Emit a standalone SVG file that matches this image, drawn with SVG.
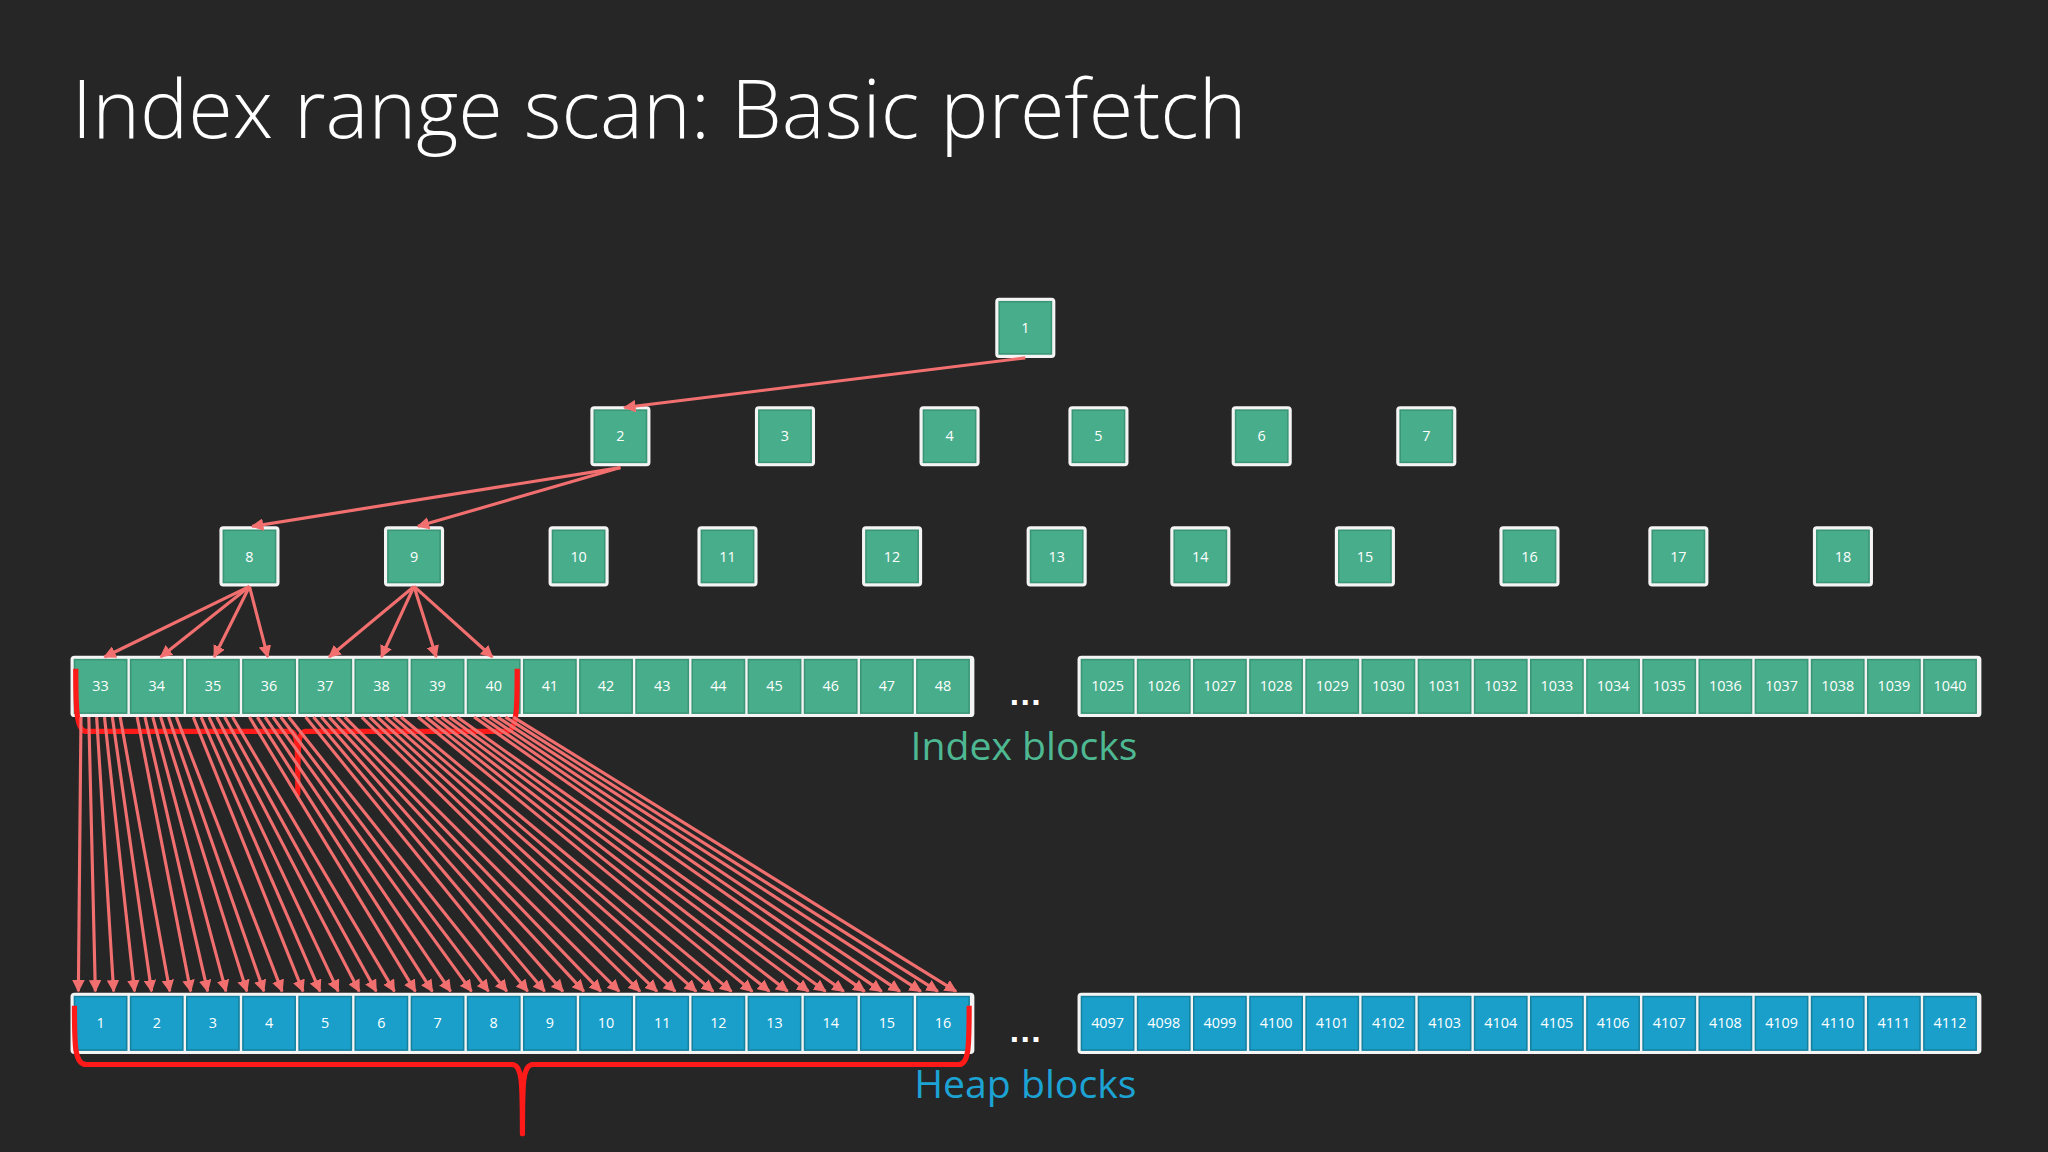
<svg xmlns="http://www.w3.org/2000/svg" width="2048" height="1152" viewBox="0 0 2048 1152">
<defs>
<style>
.bg{fill:#262626}
.title{font-family:"Open Sans","Liberation Sans",sans-serif;font-weight:300;font-size:62px;fill:#ffffff}
.wb{fill:#f4f4f4}
.g{fill:#48ad8b;stroke:#3a9476;stroke-width:1.2}
.b{fill:#1a9fcb;stroke:#15819f;stroke-width:1.2}
.t{font-family:"Open Sans","Liberation Sans",sans-serif;font-size:11px;fill:#ffffff;text-anchor:middle}
.a{stroke:#f26f6f;stroke-width:2.4;fill:none;marker-end:url(#ah)}
.br{stroke:#ff1a1a;stroke-width:4;fill:none;stroke-linejoin:round}
.lbl{font-family:"Open Sans","Liberation Sans",sans-serif;font-size:30px;text-anchor:middle}
.dots{font-family:"Liberation Sans",sans-serif;font-size:26px;fill:#ffffff;text-anchor:middle;font-weight:bold}
</style>
<marker id="ah" viewBox="0 0 10 10" refX="9" refY="5" markerWidth="4" markerHeight="4" orient="auto" markerUnits="strokeWidth">
<path d="M0,0 L10,5 L0,10 z" fill="#f26f6f"/>
</marker>
</defs>
<rect class="bg" width="2048" height="1152"/>
<g transform="scale(1.30612)">
<text class="title" x="55" y="106">Index range scan: Basic prefetch</text>

<g id="tree">
<g id="n1"><rect class="wb" x="762" y="228" width="46" height="46" rx="3"/><rect class="g" x="765" y="231" width="40" height="40"/><text class="t" x="785" y="255">1</text></g>
<g id="n2"><rect class="wb" x="452" y="311" width="46" height="46" rx="3"/><rect class="g" x="455" y="314" width="40" height="40"/><text class="t" x="475" y="338">2</text></g>
<g id="n3"><rect class="wb" x="578" y="311" width="46" height="46" rx="3"/><rect class="g" x="581" y="314" width="40" height="40"/><text class="t" x="601" y="338">3</text></g>
<g id="n4"><rect class="wb" x="704" y="311" width="46" height="46" rx="3"/><rect class="g" x="707" y="314" width="40" height="40"/><text class="t" x="727" y="338">4</text></g>
<g id="n5"><rect class="wb" x="818" y="311" width="46" height="46" rx="3"/><rect class="g" x="821" y="314" width="40" height="40"/><text class="t" x="841" y="338">5</text></g>
<g id="n6"><rect class="wb" x="943" y="311" width="46" height="46" rx="3"/><rect class="g" x="946" y="314" width="40" height="40"/><text class="t" x="966" y="338">6</text></g>
<g id="n7"><rect class="wb" x="1069" y="311" width="46" height="46" rx="3"/><rect class="g" x="1072" y="314" width="40" height="40"/><text class="t" x="1092" y="338">7</text></g>
<g id="n8"><rect class="wb" x="168" y="403" width="46" height="46" rx="3"/><rect class="g" x="171" y="406" width="40" height="40"/><text class="t" x="191" y="430">8</text></g>
<g id="n9"><rect class="wb" x="294" y="403" width="46" height="46" rx="3"/><rect class="g" x="297" y="406" width="40" height="40"/><text class="t" x="317" y="430">9</text></g>
<g id="n10"><rect class="wb" x="420" y="403" width="46" height="46" rx="3"/><rect class="g" x="423" y="406" width="40" height="40"/><text class="t" x="443" y="430">10</text></g>
<g id="n11"><rect class="wb" x="534" y="403" width="46" height="46" rx="3"/><rect class="g" x="537" y="406" width="40" height="40"/><text class="t" x="557" y="430">11</text></g>
<g id="n12"><rect class="wb" x="660" y="403" width="46" height="46" rx="3"/><rect class="g" x="663" y="406" width="40" height="40"/><text class="t" x="683" y="430">12</text></g>
<g id="n13"><rect class="wb" x="786" y="403" width="46" height="46" rx="3"/><rect class="g" x="789" y="406" width="40" height="40"/><text class="t" x="809" y="430">13</text></g>
<g id="n14"><rect class="wb" x="896" y="403" width="46" height="46" rx="3"/><rect class="g" x="899" y="406" width="40" height="40"/><text class="t" x="919" y="430">14</text></g>
<g id="n15"><rect class="wb" x="1022" y="403" width="46" height="46" rx="3"/><rect class="g" x="1025" y="406" width="40" height="40"/><text class="t" x="1045" y="430">15</text></g>
<g id="n16"><rect class="wb" x="1148" y="403" width="46" height="46" rx="3"/><rect class="g" x="1151" y="406" width="40" height="40"/><text class="t" x="1171" y="430">16</text></g>
<g id="n17"><rect class="wb" x="1262" y="403" width="46" height="46" rx="3"/><rect class="g" x="1265" y="406" width="40" height="40"/><text class="t" x="1285" y="430">17</text></g>
<g id="n18"><rect class="wb" x="1388" y="403" width="46" height="46" rx="3"/><rect class="g" x="1391" y="406" width="40" height="40"/><text class="t" x="1411" y="430">18</text></g>
</g>

<g id="index-left">
<rect class="wb" x="54" y="502" width="692" height="47" rx="3"/>
<rect class="g" x="57" y="505" width="40" height="41"/><text class="t" x="77" y="529">33</text>
<rect class="g" x="100" y="505" width="40" height="41"/><text class="t" x="120" y="529">34</text>
<rect class="g" x="143" y="505" width="40" height="41"/><text class="t" x="163" y="529">35</text>
<rect class="g" x="186" y="505" width="40" height="41"/><text class="t" x="206" y="529">36</text>
<rect class="g" x="229" y="505" width="40" height="41"/><text class="t" x="249" y="529">37</text>
<rect class="g" x="272" y="505" width="40" height="41"/><text class="t" x="292" y="529">38</text>
<rect class="g" x="315" y="505" width="40" height="41"/><text class="t" x="335" y="529">39</text>
<rect class="g" x="358" y="505" width="40" height="41"/><text class="t" x="378" y="529">40</text>
<rect class="g" x="401" y="505" width="40" height="41"/><text class="t" x="421" y="529">41</text>
<rect class="g" x="444" y="505" width="40" height="41"/><text class="t" x="464" y="529">42</text>
<rect class="g" x="487" y="505" width="40" height="41"/><text class="t" x="507" y="529">43</text>
<rect class="g" x="530" y="505" width="40" height="41"/><text class="t" x="550" y="529">44</text>
<rect class="g" x="573" y="505" width="40" height="41"/><text class="t" x="593" y="529">45</text>
<rect class="g" x="616" y="505" width="40" height="41"/><text class="t" x="636" y="529">46</text>
<rect class="g" x="659" y="505" width="40" height="41"/><text class="t" x="679" y="529">47</text>
<rect class="g" x="702" y="505" width="40" height="41"/><text class="t" x="722" y="529">48</text>
</g>
<g id="index-right">
<rect class="wb" x="825" y="502" width="692" height="47" rx="3"/>
<rect class="g" x="828" y="505" width="40" height="41"/><text class="t" x="848" y="529">1025</text>
<rect class="g" x="871" y="505" width="40" height="41"/><text class="t" x="891" y="529">1026</text>
<rect class="g" x="914" y="505" width="40" height="41"/><text class="t" x="934" y="529">1027</text>
<rect class="g" x="957" y="505" width="40" height="41"/><text class="t" x="977" y="529">1028</text>
<rect class="g" x="1000" y="505" width="40" height="41"/><text class="t" x="1020" y="529">1029</text>
<rect class="g" x="1043" y="505" width="40" height="41"/><text class="t" x="1063" y="529">1030</text>
<rect class="g" x="1086" y="505" width="40" height="41"/><text class="t" x="1106" y="529">1031</text>
<rect class="g" x="1129" y="505" width="40" height="41"/><text class="t" x="1149" y="529">1032</text>
<rect class="g" x="1172" y="505" width="40" height="41"/><text class="t" x="1192" y="529">1033</text>
<rect class="g" x="1215" y="505" width="40" height="41"/><text class="t" x="1235" y="529">1034</text>
<rect class="g" x="1258" y="505" width="40" height="41"/><text class="t" x="1278" y="529">1035</text>
<rect class="g" x="1301" y="505" width="40" height="41"/><text class="t" x="1321" y="529">1036</text>
<rect class="g" x="1344" y="505" width="40" height="41"/><text class="t" x="1364" y="529">1037</text>
<rect class="g" x="1387" y="505" width="40" height="41"/><text class="t" x="1407" y="529">1038</text>
<rect class="g" x="1430" y="505" width="40" height="41"/><text class="t" x="1450" y="529">1039</text>
<rect class="g" x="1473" y="505" width="40" height="41"/><text class="t" x="1493" y="529">1040</text>
</g>
<text class="dots" x="785" y="540">…</text>
<text class="lbl" x="784" y="582" fill="#4db892">Index blocks</text>

<g id="heap-left">
<rect class="wb" x="54" y="760" width="692" height="47" rx="3"/>
<rect class="b" x="57" y="763" width="40" height="41"/><text class="t" x="77" y="787">1</text>
<rect class="b" x="100" y="763" width="40" height="41"/><text class="t" x="120" y="787">2</text>
<rect class="b" x="143" y="763" width="40" height="41"/><text class="t" x="163" y="787">3</text>
<rect class="b" x="186" y="763" width="40" height="41"/><text class="t" x="206" y="787">4</text>
<rect class="b" x="229" y="763" width="40" height="41"/><text class="t" x="249" y="787">5</text>
<rect class="b" x="272" y="763" width="40" height="41"/><text class="t" x="292" y="787">6</text>
<rect class="b" x="315" y="763" width="40" height="41"/><text class="t" x="335" y="787">7</text>
<rect class="b" x="358" y="763" width="40" height="41"/><text class="t" x="378" y="787">8</text>
<rect class="b" x="401" y="763" width="40" height="41"/><text class="t" x="421" y="787">9</text>
<rect class="b" x="444" y="763" width="40" height="41"/><text class="t" x="464" y="787">10</text>
<rect class="b" x="487" y="763" width="40" height="41"/><text class="t" x="507" y="787">11</text>
<rect class="b" x="530" y="763" width="40" height="41"/><text class="t" x="550" y="787">12</text>
<rect class="b" x="573" y="763" width="40" height="41"/><text class="t" x="593" y="787">13</text>
<rect class="b" x="616" y="763" width="40" height="41"/><text class="t" x="636" y="787">14</text>
<rect class="b" x="659" y="763" width="40" height="41"/><text class="t" x="679" y="787">15</text>
<rect class="b" x="702" y="763" width="40" height="41"/><text class="t" x="722" y="787">16</text>
</g>
<g id="heap-right">
<rect class="wb" x="825" y="760" width="692" height="47" rx="3"/>
<rect class="b" x="828" y="763" width="40" height="41"/><text class="t" x="848" y="787">4097</text>
<rect class="b" x="871" y="763" width="40" height="41"/><text class="t" x="891" y="787">4098</text>
<rect class="b" x="914" y="763" width="40" height="41"/><text class="t" x="934" y="787">4099</text>
<rect class="b" x="957" y="763" width="40" height="41"/><text class="t" x="977" y="787">4100</text>
<rect class="b" x="1000" y="763" width="40" height="41"/><text class="t" x="1020" y="787">4101</text>
<rect class="b" x="1043" y="763" width="40" height="41"/><text class="t" x="1063" y="787">4102</text>
<rect class="b" x="1086" y="763" width="40" height="41"/><text class="t" x="1106" y="787">4103</text>
<rect class="b" x="1129" y="763" width="40" height="41"/><text class="t" x="1149" y="787">4104</text>
<rect class="b" x="1172" y="763" width="40" height="41"/><text class="t" x="1192" y="787">4105</text>
<rect class="b" x="1215" y="763" width="40" height="41"/><text class="t" x="1235" y="787">4106</text>
<rect class="b" x="1258" y="763" width="40" height="41"/><text class="t" x="1278" y="787">4107</text>
<rect class="b" x="1301" y="763" width="40" height="41"/><text class="t" x="1321" y="787">4108</text>
<rect class="b" x="1344" y="763" width="40" height="41"/><text class="t" x="1364" y="787">4109</text>
<rect class="b" x="1387" y="763" width="40" height="41"/><text class="t" x="1407" y="787">4110</text>
<rect class="b" x="1430" y="763" width="40" height="41"/><text class="t" x="1450" y="787">4111</text>
<rect class="b" x="1473" y="763" width="40" height="41"/><text class="t" x="1493" y="787">4112</text>
</g>
<text class="dots" x="785" y="798">…</text>
<text class="lbl" x="785" y="841" fill="#1ca3d4">Heap blocks</text>

<g id="brackets">
<path class="br" d="M58,512 C58,540 58,560 66,560 L222,560 C228,560 228,570 228,608 C228,570 228,560 234,560 L388,560 C396,560 396,540 396,512"/>
<path class="br" d="M57,770 C57,800 57,815 66,815 L392,815 C400,815 400,830 400,868 C400,830 400,815 408,815 L734,815 C742,815 742,800 742,770"/>
</g>

<g id="connectors">
<path class="a" d="M785,274 L478,312"/>
<path class="a" d="M475,358 L193,403"/>
<path class="a" d="M475,358 L320,403"/>
<path class="a" d="M191,449 L80,503"/>
<path class="a" d="M191,449 L123,503"/>
<path class="a" d="M191,449 L164,503"/>
<path class="a" d="M191,449 L205,503"/>
<path class="a" d="M317,449 L252,503"/>
<path class="a" d="M317,449 L292,503"/>
<path class="a" d="M317,449 L334,503"/>
<path class="a" d="M317,449 L377,503"/>
<path class="a" d="M62,549 L60,759"/><path class="a" d="M68,549 L73,759"/><path class="a" d="M74,549 L87,759"/>
<path class="a" d="M80,549 L103,759"/><path class="a" d="M86,549 L116,759"/><path class="a" d="M92,549 L130,759"/>
<path class="a" d="M105,549 L146,759"/><path class="a" d="M111,549 L159,759"/><path class="a" d="M117,549 L173,759"/>
<path class="a" d="M123,549 L189,759"/><path class="a" d="M129,549 L202,759"/><path class="a" d="M135,549 L216,759"/>
<path class="a" d="M148,549 L232,759"/><path class="a" d="M154,549 L245,759"/><path class="a" d="M160,549 L259,759"/>
<path class="a" d="M166,549 L275,759"/><path class="a" d="M172,549 L288,759"/><path class="a" d="M178,549 L302,759"/>
<path class="a" d="M191,549 L318,759"/><path class="a" d="M197,549 L331,759"/><path class="a" d="M203,549 L345,759"/>
<path class="a" d="M209,549 L361,759"/><path class="a" d="M215,549 L374,759"/><path class="a" d="M221,549 L388,759"/>
<path class="a" d="M234,549 L404,759"/><path class="a" d="M240,549 L417,759"/><path class="a" d="M246,549 L431,759"/>
<path class="a" d="M252,549 L447,759"/><path class="a" d="M258,549 L460,759"/><path class="a" d="M264,549 L474,759"/>
<path class="a" d="M277,549 L490,759"/><path class="a" d="M283,549 L503,759"/><path class="a" d="M289,549 L517,759"/>
<path class="a" d="M295,549 L533,759"/><path class="a" d="M301,549 L546,759"/><path class="a" d="M307,549 L560,759"/>
<path class="a" d="M320,549 L576,759"/><path class="a" d="M326,549 L589,759"/><path class="a" d="M332,549 L603,759"/>
<path class="a" d="M338,549 L619,759"/><path class="a" d="M344,549 L632,759"/><path class="a" d="M350,549 L646,759"/>
<path class="a" d="M363,549 L662,759"/><path class="a" d="M369,549 L675,759"/><path class="a" d="M375,549 L689,759"/>
<path class="a" d="M381,549 L705,759"/><path class="a" d="M387,549 L718,759"/><path class="a" d="M393,549 L732,759"/>
</g>
</g>
</svg>
